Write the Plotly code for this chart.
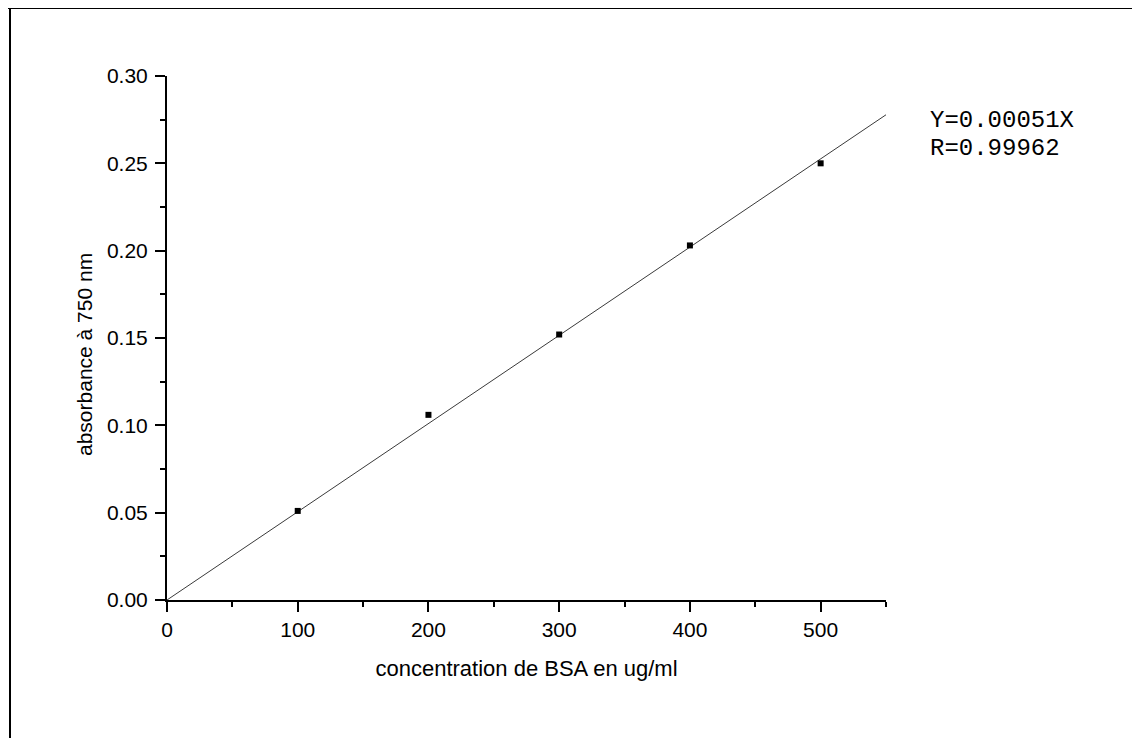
import plotly.graph_objects as go

# Data
conc = [100, 200, 300, 400, 500]
absorb = [0.051, 0.106, 0.152, 0.203, 0.250]
fit_x = [0, 550]
fit_y = [0.0, 0.2778]
x_ticks = [0, 100, 200, 300, 400, 500]
y_ticks = [0.00, 0.05, 0.10, 0.15, 0.20, 0.25, 0.30]
y_ticklabels = ["0.00", "0.05", "0.10", "0.15", "0.20", "0.25", "0.30"]
x_title = "concentration de BSA en ug/ml"
y_title = "absorbance à 750 nm"
eq_lines = ["Y=0.00051X", "R=0.99962"]

# page has an 8px body margin -> figure sized to fit the window exactly
OFF = 8
W, H = 1140 - OFF, 738 - OFF
L, T = 167 - OFF, 76 - OFF
R = W - (886 - OFF)
B = H - (600 - OFF)
pw, ph = W - L - R, H - T - B

def px_x(p):  # page pixel -> paper
    return (p - OFF - L) / pw

def px_y(p):
    return (H - B - (p - OFF)) / ph

fig = go.Figure()
fig.add_trace(go.Scatter(x=fit_x, y=fit_y, mode="lines",
                         line=dict(color="#3a3a3a", width=1), showlegend=False,
                         hoverinfo="skip"))
fig.add_trace(go.Scatter(x=conc, y=absorb, mode="markers",
                         marker=dict(symbol="square", size=6, color="black"),
                         showlegend=False))

font = "Liberation Sans, Arial, sans-serif"
axis_common = dict(showline=True, linecolor="black", linewidth=2,
                   ticks="outside", ticklen=10, tickwidth=2, tickcolor="black",
                   showgrid=False, zeroline=False,
                   tickfont=dict(family=font, size=21, color="black"))

fig.update_xaxes(range=[0, 550], tickvals=x_ticks,
                 minor=dict(dtick=50, tick0=0, ticks="outside", ticklen=5,
                            tickwidth=2, tickcolor="black", showgrid=False),
                 title=dict(text=x_title,
                            font=dict(family=font, size=22, color="black"),
                            standoff=20),
                 **axis_common)
fig.update_yaxes(range=[0, 0.30], tickvals=y_ticks, ticktext=y_ticklabels,
                 ticklabelstandoff=3,
                 minor=dict(dtick=0.025, tick0=0, ticks="outside", ticklen=5,
                            tickwidth=2, tickcolor="black", showgrid=False),
                 **axis_common)

annotations = [dict(x=px_x(84), y=px_y(355), xref="paper", yref="paper",
                    text=y_title, textangle=-90, showarrow=False,
                    xanchor="center", yanchor="middle",
                    font=dict(family=font, size=21, color="black"))]
for i, txt in enumerate(eq_lines):
    annotations.append(dict(x=px_x(929), y=px_y(120 + 28 * i), xref="paper", yref="paper",
                            text=txt, showarrow=False, xanchor="left", yanchor="middle",
                            borderpad=0,
                            font=dict(family="Liberation Mono, Courier New, monospace",
                                      size=24, color="black")))

shapes = [
    dict(type="line", xref="paper", yref="paper", x0=px_x(OFF), x1=px_x(1160),
         y0=px_y(8), y1=px_y(8), line=dict(color="black", width=2)),
    dict(type="line", xref="paper", yref="paper", x0=px_x(10), x1=px_x(10),
         y0=px_y(OFF), y1=px_y(760), line=dict(color="black", width=2)),
]

fig.update_layout(width=W, height=H, margin=dict(l=L, r=R, t=T, b=B, autoexpand=False),
                  paper_bgcolor="white", plot_bgcolor="white",
                  annotations=annotations, shapes=shapes)

fig.write_html("out.html")
